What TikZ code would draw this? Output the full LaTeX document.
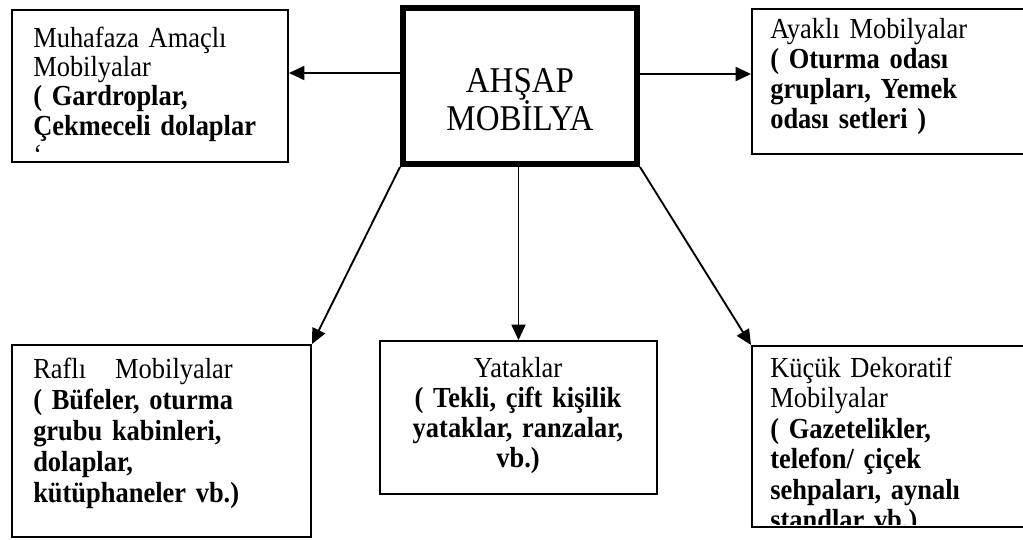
\documentclass[tikz,border=0pt]{standalone}
\usepackage{fontspec}
\setmainfont{Liberation Serif}[FakeStretch=0.91]
\usetikzlibrary{arrows.meta}
\begin{document}
\begin{tikzpicture}[x=0.75pt,y=-0.75pt,
  box/.style={draw, line width=1.5pt, inner sep=0pt, rectangle},
  arr/.style={-{Triangle[length=11.5pt,width=10.5pt]}, line width=1.4pt},
  txt/.style={inner sep=0pt, text width=250pt, align=left}]
\useasboundingbox (0,0) rectangle (1023,539);

% boxes
\node[box, minimum width=207pt, minimum height=114pt] (muh) at (150,86) {};
\node[box, line width=4.5pt, minimum width=175.5pt, minimum height=117pt] (cen) at (520,86) {};
\node[box, minimum width=216pt, minimum height=108.75pt] (aya) at (896,81.5) {};
\node[box, minimum width=224.25pt, minimum height=144pt] (raf) at (161.5,441) {};
\node[box, minimum width=207.75pt, minimum height=114.75pt] (yat) at (518.5,417.5) {};
\node[box, minimum width=216pt, minimum height=135.75pt] (kuc) at (896,436.5) {};

% texts
\node[inner sep=0pt, text width=170pt, align=center, anchor=base,
  font=\fontsize{27.2}{26.25}\selectfont] (cenT) at (520,92) {AHŞAP\\MOBİLYA};

\node[txt, anchor=base west, font=\fontsize{21.8}{22.1}\selectfont] (muhT) at (33,47)
  {Muhafaza Amaçlı\\Mobilyalar\\\textbf{( Gardroplar,}\\\textbf{Çekmeceli dolaplar}\\\symbol{96}};

\node[txt, anchor=base west, font=\fontsize{21.8}{22.5}\selectfont] (ayaT) at (770,38)
  {Ayaklı Mobilyalar\\\textbf{( Oturma odası}\\\textbf{grupları, Yemek}\\\textbf{odası setleri )}};

\node[txt, anchor=base west, font=\fontsize{21.8}{23.4}\selectfont] (rafT) at (33,378)
  {Raflı\ \ \ Mobilyalar\\\textbf{( Büfeler, oturma}\\\textbf{grubu kabinleri,}\\\textbf{dolaplar,}\\\textbf{kütüphaneler vb.)}};

\node[txt, text width=200pt, align=center, anchor=base, font=\fontsize{21.8}{22.5}\selectfont] (yatT) at (518,377)
  {Yataklar\\\textbf{( Tekli, çift kişilik}\\\textbf{yataklar, ranzalar,}\\\textbf{vb.)}};

\begin{scope}
  \clip (753,347) rectangle (1030,524);
  \node[txt, anchor=base west, font=\fontsize{21.8}{22.9}\selectfont] (kucT) at (770,377)
    {Küçük Dekoratif\\Mobilyalar\\\textbf{( Gazetelikler,}\\\textbf{telefon/ çiçek}\\\textbf{sehpaları, aynalı}\\\textbf{standlar vb.)}};
\end{scope}

% connectors
\draw[arr] ([yshift=9.75pt]cen.west) -- ([yshift=9.75pt]cen.west -| muh.east);
\draw[arr] ([yshift=9pt]cen.east) -- ([yshift=9pt]cen.east -| aya.west);
\draw[arr] (cen.south west) -- (raf.north east);
\draw[arr] (cen.south -| yat.north) -- (yat.north);
\draw[arr] (cen.south east) -- (kuc.north west);
\end{tikzpicture}
\end{document}
